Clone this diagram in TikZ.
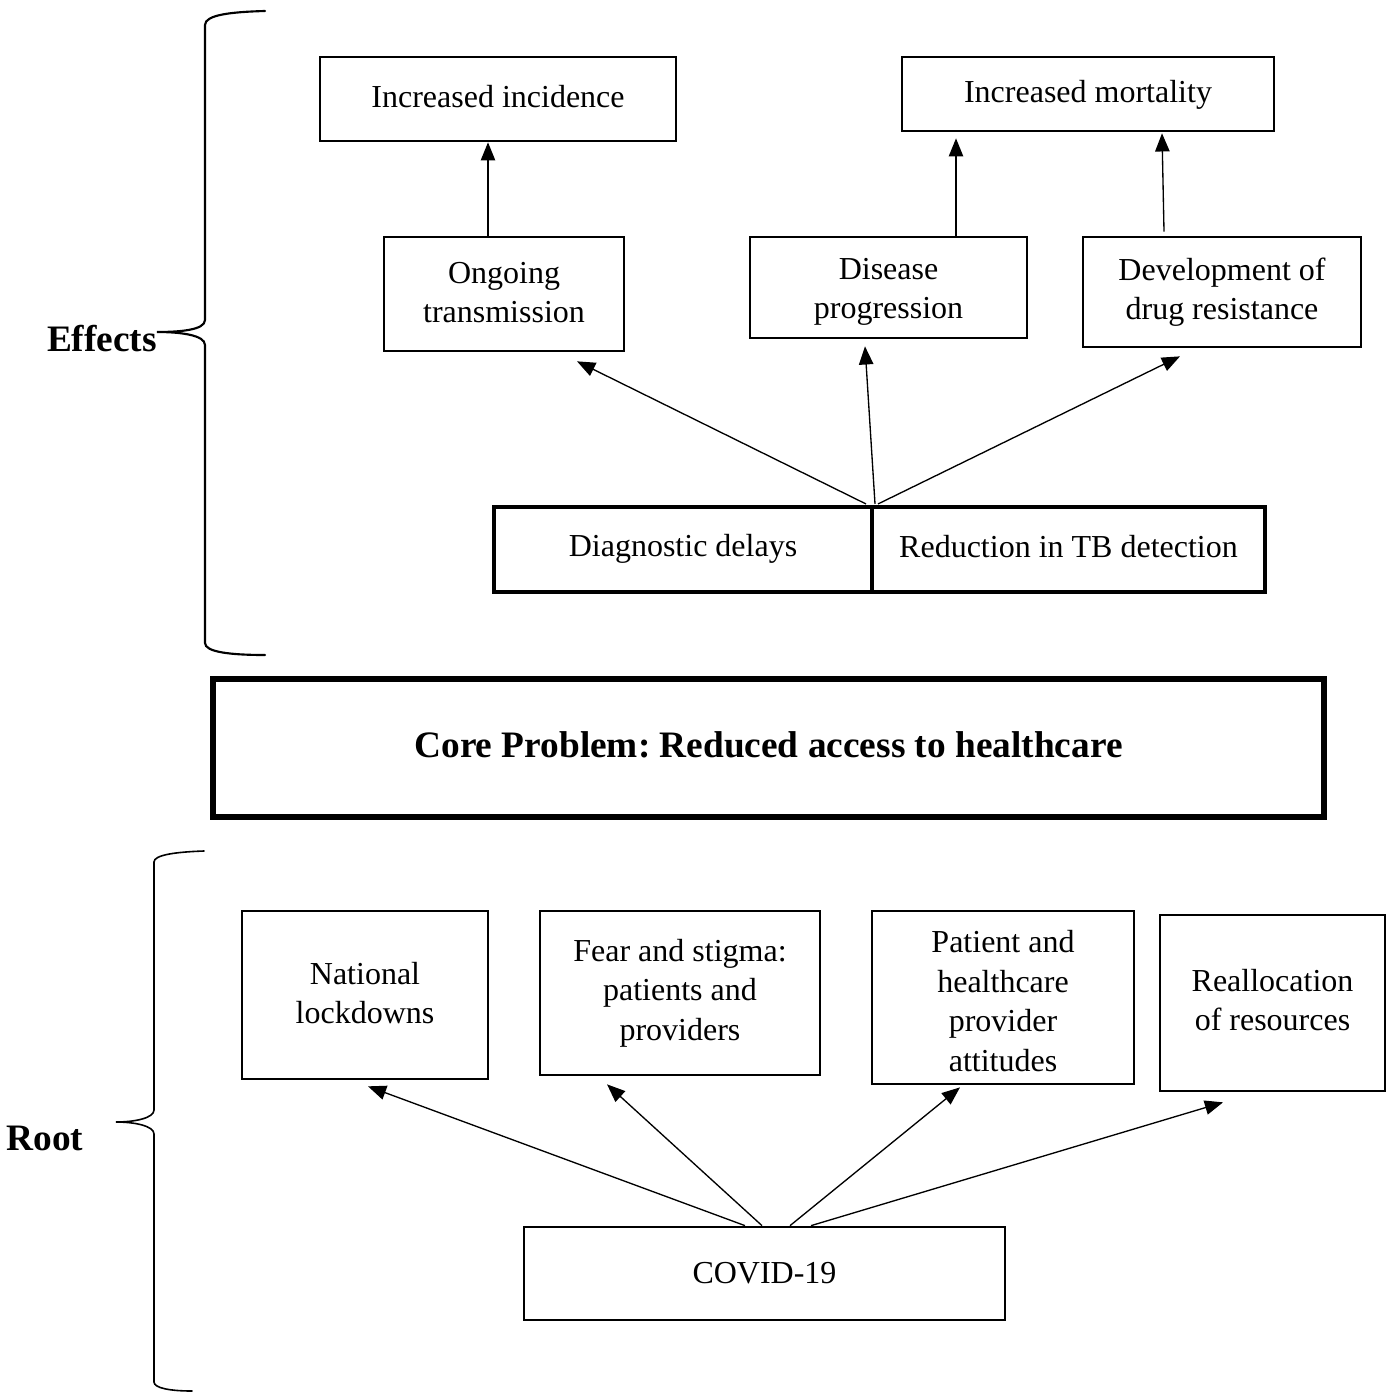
\documentclass[tikz,border=0pt]{standalone}
\usepackage{fontspec}
\setmainfont{Liberation Serif}
\frenchspacing
\usetikzlibrary{arrows.meta,calc}
\begin{document}
\begin{tikzpicture}[x=0.375pt,y=-0.375pt,
  box/.style={draw,line width=1pt,inner sep=0pt},
  txt/.style={inner sep=0pt,align=center,font=\fontsize{12}{14.8}\selectfont},
  splitbox/.style={box,line width=1.5pt},
  corebox/.style={draw,line width=2pt,inner sep=0pt},
  boldtxt/.style={inner sep=0pt,font=\fontsize{14}{17}\selectfont\bfseries},
  sidelabel/.style={font=\fontsize{14}{17}\selectfont\bfseries,inner sep=0pt},
  arr/.style={line width=0.5pt,-{Triangle[length=6.8pt,width=5.4pt]}},
  brace/.style={line width=0.8pt,line cap=round}]
\useasboundingbox (0,0) rectangle (1387,1393);

% effects
\node[box,minimum width=133.5pt,minimum height=31.5pt,
  label={[txt,yshift=1.1pt]center:{Increased incidence}}] (inc) at (498,99) {};
\node[box,minimum width=139.5pt,minimum height=27.75pt,
  label={[txt,yshift=-0.3pt]center:{Increased mortality}}] (mort) at (1088,94) {};
\node[box,minimum width=90pt,minimum height=42.75pt,
  label={[txt,yshift=0.5pt]center:{Ongoing\\transmission}}] (ongo) at (504,294) {};
\node[box,minimum width=103.9pt,minimum height=37.9pt,
  label={[txt,yshift=-1.6pt]center:{Disease\\progression}}] (dis) at (888.5,287.5) {};
\node[box,minimum width=104.25pt,minimum height=41.25pt,
  label={[txt]center:{Development of\\drug resistance}}] (dev) at (1222,292) {};
\node[splitbox,minimum width=141.75pt,minimum height=31.9pt,
  label={[txt,yshift=0.1pt]center:{Diagnostic delays}}] (diag) at (683,549.5) {};
\node[splitbox,minimum width=147.4pt,minimum height=31.9pt,
  label={[txt,yshift=1.1pt]center:{Reduction in TB detection}}] (red) at (1068.5,549.5) {};

% core problem
\node[corebox,minimum width=416.6pt,minimum height=51.75pt,
  label={[boldtxt,yshift=1.1pt]center:{Core Problem: Reduced access to healthcare}}] (core) at (768.5,748) {};

% roots
\node[box,minimum width=92.25pt,minimum height=63pt,
  label={[txt,yshift=0.7pt]center:{National\\lockdowns}}] (nat) at (365,995) {};
\node[box,minimum width=105pt,minimum height=61.5pt,
  label={[txt]center:{Fear and stigma:\\patients and\\providers}}] (fear) at (680,993) {};
\node[box,minimum width=98.25pt,minimum height=64.9pt,
  label={[txt,yshift=-1.3pt]center:{Patient and\\healthcare\\provider\\attitudes}}] (pat) at (1003,997.5) {};
\node[box,minimum width=84.4pt,minimum height=66pt,
  label={[txt,yshift=1.1pt]center:{Reallocation\\of resources}}] (real) at (1272.5,1003) {};
\node[box,minimum width=180.4pt,minimum height=34.9pt,
  label={[txt,yshift=0.3pt]center:{COVID-19}}] (covid) at (764.5,1273.5) {};

% side labels
\node[sidelabel] (efflab) at (102,339) {Effects};
\node[sidelabel] (rootlab) at (45,1138) {Root};

% upward links between effect levels
\draw[arr] (488,0 |- ongo.north) -- (488,0 |- inc.south);
\draw[arr] (956,0 |- dis.north) -- ($(956,0 |- mort.south)+(0,6)$);
\draw[arr] ($(1164,0 |- dev.north)+(0,-4)$) -- ($(1162,0 |- mort.south)+(0,1)$);

% links from the split box
\draw[arr] ($(diag.north east)+(-8,-1)$) -- ($(ongo.south)+(73,9)$);
\draw[arr] ($(diag.north east)+(1,-1)$) -- ($(dis.south)+(-23.5,7)$);
\draw[arr] ($(diag.north east)+(4,-1)$) -- ($(dev.south)+(-42,8)$);

% links from COVID-19
\draw[arr] ($(covid.north)+(-19.5,0)$) -- ($(nat.south)+(3,6)$);
\draw[arr] ($(covid.north)+(-2.5,0)$) -- ($(fear.south)+(-73,8)$);
\draw[arr] ($(covid.north)+(25.5,0)$) -- ($(pat.south)+(-43,2)$);
\draw[arr] ($(covid.north)+(46.5,0)$) -- ($(real.south)+(-49.5,10)$);

% braces
\draw[brace] (265,11) .. controls (230,12) and (205,15) .. (205,25)
  -- (205,320) .. controls (205,330) and (180,332) .. (157,332)
  .. controls (180,332) and (205,335) .. (205,345)
  -- (205,643) .. controls (205,652) and (230,655) .. (265,655);
\draw[brace,line width=0.6pt] (204,851) .. controls (175,852) and (154,855) .. (154,862)
  -- (154,1110) .. controls (154,1118) and (135,1122) .. (116,1122)
  .. controls (135,1122) and (154,1126) .. (154,1134)
  -- (154,1382) .. controls (154,1388) and (170,1391) .. (192,1391);
\end{tikzpicture}
\end{document}
